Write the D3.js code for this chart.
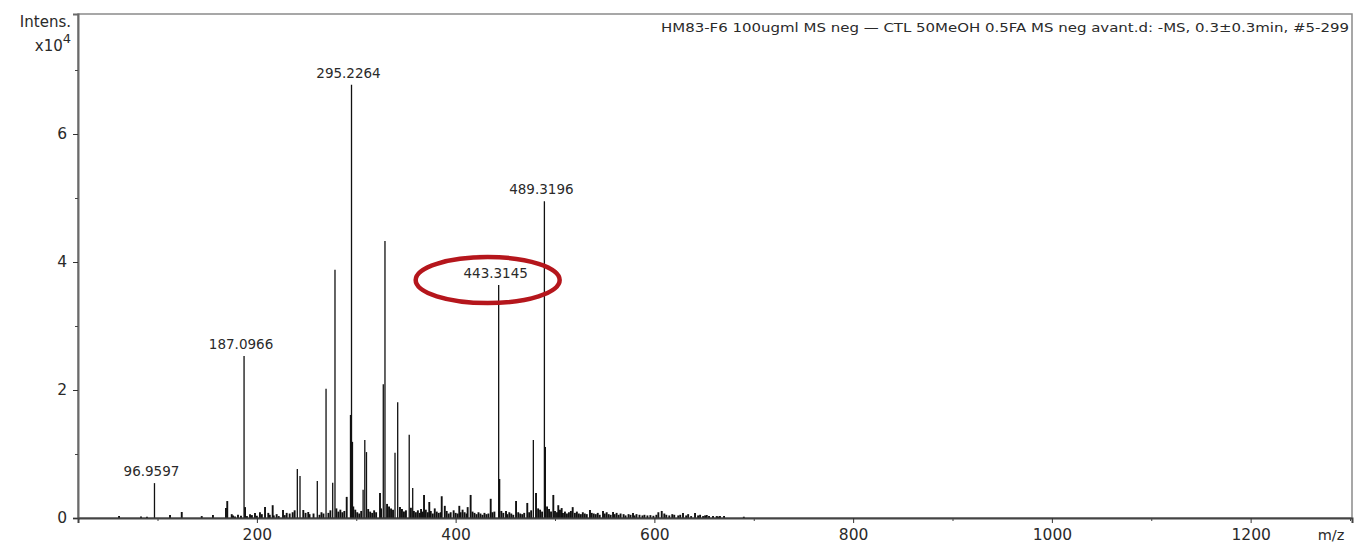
<!DOCTYPE html>
<html><head><meta charset="utf-8">
<script src="https://cdn.jsdelivr.net/npm/d3@7"></script>
<style>body{margin:0;background:#fff}svg{display:block}text{font-family:"DejaVu Sans",sans-serif}</style>
</head><body><svg id="c" width="1355" height="545"></svg>
<script>
// ---- data ----
const peakMz = [61.3,83.4,89.4,96.9597,112.6,124.4,144.5,155.8,168.9,170.2,174.7,187.0966,188.1,193.1,198.1,203.1,208.2,211.5,215.9,219.9,226.3,230.0,240.7,243.4,246.7,251.7,260.8,269.6,276.3,278.6,290.4,294.2,295.2264,296.2,306.9,308.6,310.3,323.9,327.2,328.9,339.0,341.7,353.3,356.8,365.2,368.2,373.5,386.0,389.1,403.7,412.1,415.1,435.3,443.3145,444.3,450.7,460.8,472.1,478.2,480.9,489.3196,490.3,498.3,503.3,506.7,517.8,535.2,548.3,558.4,578.5,607.4,628.8,640.9,652.7,662.7,670.1];
const peakInt = [300,250,200,5450,470,940,300,450,1550,2650,600,25300,1700,600,800,900,1700,800,2000,600,1250,800,7650,6550,1250,940,5800,20200,5500,38800,3300,16100,67700,11900,4400,12200,10300,3900,20900,43300,10200,18100,13000,4700,1400,3600,2500,3400,1900,1900,1700,3600,3000,36400,6100,1100,2650,2350,12200,3900,49500,11100,3600,2000,1550,1700,1250,1100,940,780,1100,780,780,470,300,300];
const noiseMz = [176,178,181,184,190,195,200,205,213,217,222,228,233,236,238,249,253,257,263,265,267,272,274,280,282,284,286,288,297,299,301,303,305,312,314,316,318,320,325,331,333,335,337,344,346,348,350,355,358,360,362,364,367,370,372,375,377,379,381,383,385,391,393,395,398,400,402,405,407,409,411,417,419,421,423,425,427,429,431,433,437,439,446,448,452,454,456,458,463,465,467,469,474,476,483,485,487,492,494,496,500,502,505,508,510,512,514,516,520,522,524,526,528,530,532,537,539,541,543,545,550,552,554,556,560,562,564,566,569,571,574,576,580,582,585,588,590,593,596,599,602,604,610,612,615,618,620,624,626,632,634,637,644,646,649,651,655,659,664,666,690];
const noiseInt = [400,250,500,350,300,450,350,600,500,400,300,450,700,900,1200,800,600,700,500,900,700,800,1200,1500,1000,1300,900,1100,1800,1300,900,700,1100,1400,1000,800,1200,900,1500,2200,1800,1500,1300,1700,1400,1000,1200,1600,1100,900,1200,800,1000,1300,900,1100,700,1500,1000,800,900,1100,700,900,1200,800,700,900,1300,900,700,1000,800,600,900,700,500,800,600,700,900,1000,1100,800,600,900,700,500,900,700,600,800,900,1200,1500,1300,1000,1800,1400,1000,1100,900,1300,800,1000,700,900,1100,800,1000,700,600,900,700,600,800,700,600,800,500,700,900,600,500,600,800,500,700,600,400,600,500,400,600,500,400,500,400,450,350,500,900,700,500,400,600,500,400,500,400,600,300,400,500,300,400,300,300,250,300,200];
const labelMz = [96.9597,187.0966,295.2264,443.3145,489.3196];
const yTicks = [0,2,4,6];
const yMinor = [1,3,5,7];
const xTicks = [200,400,600,800,1000,1200];
const xMinor = [100,300,500,700,900,1100,1300];
const title = "HM83-F6 100ugml MS neg \u2014 CTL 50MeOH 0.5FA MS neg avant.d: -MS, 0.3\u00b10.3min, #5-299";
const highlightMz = 443.3145;

// ---- chart ----
const svg = d3.select("#c");
const L = 78, R = 1352, T = 14, B = 518;
const x = d3.scaleLinear().domain([20, 1302]).range([L, R]);
const y = d3.scaleLinear().domain([0, 78750]).range([B, T]);
const axisCol = "#6a6a6a";
const txt = "#2a2a2a";

// frame
svg.append("rect").attr("x", L).attr("y", T).attr("width", R - L).attr("height", B - T)
  .attr("fill", "none").attr("stroke", "#8a8a8a").attr("stroke-width", 1.5);

// sticks
const all = noiseMz.map((m, i) => [m, noiseInt[i]]).concat(peakMz.map((m, i) => [m, peakInt[i]]));
svg.append("g").selectAll("line").data(all).join("line")
  .attr("x1", d => x(d[0])).attr("x2", d => x(d[0]))
  .attr("y1", y(0)).attr("y2", d => y(d[1]))
  .attr("stroke", "#111").attr("stroke-width", d => d[1] > 4000 ? 1.3 : 1.9);

// axes
const yAxis = svg.append("g").attr("transform", `translate(${L},0)`)
  .call(d3.axisLeft(y).tickValues(yTicks.map(v => v * 1e4)).tickFormat(v => v / 1e4).tickSize(5).tickPadding(6));
yAxis.select(".domain").attr("stroke", axisCol).attr("stroke-width", 2);
yAxis.selectAll(".tick line").attr("stroke", "#333");
yAxis.selectAll("text").attr("font-size", 15.5).attr("fill", txt).attr("font-family", "DejaVu Sans");
svg.append("g").attr("transform", `translate(${L},0)`)
  .call(d3.axisLeft(y).tickValues(yMinor.map(v => v * 1e4)).tickFormat("").tickSize(3))
  .call(g => g.select(".domain").remove()).selectAll("line").attr("stroke", "#444");

const xAxis = svg.append("g").attr("transform", `translate(0,${B})`)
  .call(d3.axisBottom(x).tickValues(xTicks).tickFormat(d3.format("d")).tickSize(5).tickPadding(6));
xAxis.select(".domain").attr("stroke", "#444").attr("stroke-width", 2);
xAxis.selectAll(".tick line").attr("stroke", "#333");
xAxis.selectAll("text").attr("font-size", 15.5).attr("fill", txt).attr("font-family", "DejaVu Sans");
svg.append("g").attr("transform", `translate(0,${B})`)
  .call(d3.axisBottom(x).tickValues(xMinor).tickFormat("").tickSize(3))
  .call(g => g.select(".domain").remove()).selectAll("line").attr("stroke", "#444");

svg.append("text").attr("x", 1331).attr("y", 540).attr("text-anchor", "middle")
  .attr("font-size", 14.5).attr("fill", txt).text("m/z");

// y unit label
svg.append("text").attr("x", 71).attr("y", 27).attr("text-anchor", "end")
  .attr("font-size", 15).attr("fill", txt).text("Intens.");
const u = svg.append("text").attr("x", 71).attr("y", 51).attr("text-anchor", "end")
  .attr("font-size", 15).attr("fill", txt);
u.append("tspan").text("x10");
u.append("tspan").attr("dy", -8).attr("font-size", 13).text("4");

// title
svg.append("text").attr("x", 1349).attr("y", 32).attr("text-anchor", "end")
  .attr("font-size", 13).attr("fill", txt)
  .attr("textLength", 688).attr("lengthAdjust", "spacingAndGlyphs").text(title);

// peak labels
const lab = labelMz.map(m => [m, peakInt[peakMz.indexOf(m)]]);
svg.append("g").selectAll("text").data(lab).join("text")
  .attr("x", d => x(d[0]) - 3).attr("y", d => y(d[1]) - 7)
  .attr("text-anchor", "middle").attr("font-size", 13.5).attr("fill", txt)
  .text(d => d[0].toFixed(4));

// highlight ellipse
const hi = peakInt[peakMz.indexOf(highlightMz)];
svg.append("ellipse").attr("cx", x(highlightMz) - 11).attr("cy", y(hi) - 5)
  .attr("rx", 72).attr("ry", 23).attr("fill", "none")
  .attr("stroke", "#b5161c").attr("stroke-width", 4.5);
</script></body></html>
